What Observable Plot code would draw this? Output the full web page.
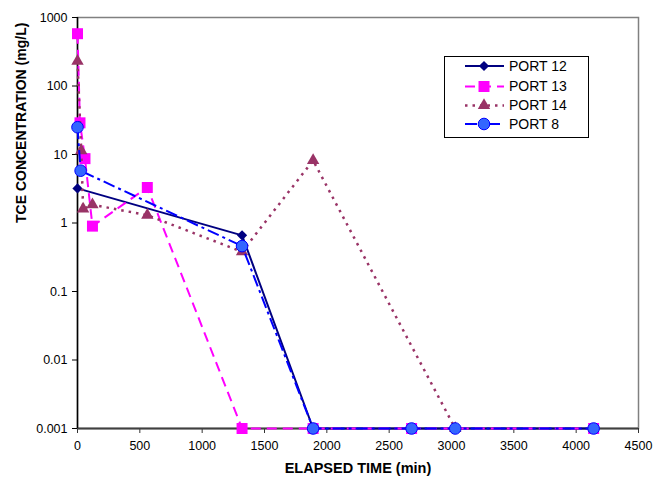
<!DOCTYPE html>
<html>
<head>
<meta charset="utf-8">
<script src="https://cdn.jsdelivr.net/npm/d3@7"></script>
<script src="https://cdn.jsdelivr.net/npm/@observablehq/plot@0.6"></script>
<style>
  html, body { margin: 0; padding: 0; background: #fff; }
  #chart { position: relative; width: 653px; height: 479px; font-family: "Liberation Sans", Arial, sans-serif; }
  #chart svg { font-family: "Liberation Sans", Arial, sans-serif; }
  #legend { position: absolute; left: 444px; top: 56px; }
</style>
</head>
<body>
<div id="chart"></div>
<script>
// ---- data ----
const seriesNames = ["PORT 12", "PORT 13", "PORT 14", "PORT 8"];

const port12Time = [0, 1320, 1890, 2680, 3030, 4140];
const port12Conc = [3.2, 0.66, 0.001, 0.001, 0.001, 0.001];

const port13Time = [0, 20, 60, 120, 560, 1320, 1890, 2680, 4140];
const port13Conc = [580, 29, 8.7, 0.9, 3.3, 0.001, 0.001, 0.001, 0.001];

const port14Time = [0, 30, 45, 120, 560, 1320, 1890, 3030];
const port14Conc = [230, 11.4, 1.6, 1.85, 1.3, 0.38, 8.2, 0.001];

const port8Time = [0, 25, 1320, 1890, 2680, 3030, 4140];
const port8Conc = [25, 5.8, 0.46, 0.001, 0.001, 0.001, 0.001];

const xTicks = [0, 500, 1000, 1500, 2000, 2500, 3000, 3500, 4000, 4500];
const yTicks = [0.001, 0.01, 0.1, 1, 10, 100, 1000];
const yTickLabels = ["0.001", "0.01", "0.1", "1", "10", "100", "1000"];

const xTitle = "ELAPSED TIME (min)";
const yTitle = "TCE CONCENTRATION (mg/L)";

// ---- styles per series ----
const styles = {
  "PORT 12": {stroke: "#000080", dash: null, width: 2, symbol: "diamond2", fill: "#000080", mstroke: "none", r: 4.6},
  "PORT 13": {stroke: "#FF00FF", dash: "10,6", width: 2, symbol: "square", fill: "#FF00FF", mstroke: "none", r: 6.2},
  "PORT 14": {stroke: "#993366", dash: "2.5,5", width: 2.5, symbol: "triangle", fill: "#993366", mstroke: "none", r: 4.6},
  "PORT 8":  {stroke: "#0000FF", dash: "12,4,3,4", width: 2, symbol: "circle", fill: "#3366FF", mstroke: "#0000FF", r: 5.8}
};

const toRows = (name, t, c) => t.map((d, i) => ({series: name, time: d, conc: c[i]}));
const data = {
  "PORT 12": toRows("PORT 12", port12Time, port12Conc),
  "PORT 13": toRows("PORT 13", port13Time, port13Conc),
  "PORT 14": toRows("PORT 14", port14Time, port14Conc),
  "PORT 8": toRows("PORT 8", port8Time, port8Conc)
};

const seriesMarks = seriesNames.flatMap(name => {
  const s = styles[name];
  return [
    Plot.line(data[name], {x: "time", y: "conc", stroke: s.stroke, strokeWidth: s.width,
      strokeDasharray: s.dash || undefined, strokeLinecap: "butt", strokeLinejoin: "round"}),
    Plot.dot(data[name], {x: "time", y: "conc", symbol: () => s.symbol, r: s.r, fill: s.fill,
      stroke: s.mstroke, strokeWidth: 1})
  ];
});

const chart = Plot.plot({
  width: 653,
  height: 479,
  marginLeft: 77,
  marginRight: 15,
  marginTop: 17,
  marginBottom: 51,
  style: {fontFamily: '"Liberation Sans", Arial, sans-serif', background: "#fff", overflow: "visible"},
  symbol: {type: "identity"},
  x: {domain: [0, 4500]},
  y: {type: "log", domain: [0.001, 1000]},
  marks: [
    Plot.frame({stroke: "#808080", strokeWidth: 1.5}),
    Plot.axisX({ticks: xTicks, tickSize: 5, tickPadding: 8, fontSize: 12.5, label: null, stroke: "#333", tickFormat: d => String(d)}),
    Plot.axisY({ticks: yTicks, tickSize: 5, tickPadding: 5, fontSize: 12.5, label: null, stroke: "#000",
      tickFormat: d => yTickLabels[yTicks.indexOf(d)]}),
    Plot.ruleY([0.001], {stroke: "#404040", strokeWidth: 2}),
    Plot.ruleX([0], {stroke: "#000", strokeWidth: 1.5}),
    ...seriesMarks,
    Plot.text([xTitle], {frameAnchor: "bottom", dy: 44, text: d => d, fontSize: 14.5, fontWeight: "bold", fill: "#000"}),
    Plot.text([yTitle], {frameAnchor: "left", dx: -56, rotate: -90, text: d => d, fontSize: 14, fontWeight: "bold", fill: "#000"})
  ]
});

const container = document.getElementById("chart");
container.appendChild(chart);

// ---- legend (inside the plot area) ----
const lw = 145, lh = 82;
const leg = d3.create("svg").attr("id", "legend").attr("width", lw).attr("height", lh)
  .style("font-family", '"Liberation Sans", Arial, sans-serif');
leg.append("rect").attr("x", 0.5).attr("y", 0.5).attr("width", lw - 1).attr("height", lh - 1)
  .attr("fill", "#fff").attr("stroke", "#000").attr("stroke-width", 1);
const rowY = [10, 30.5, 49.5, 68];
seriesNames.forEach((name, i) => {
  const s = styles[name];
  const g = leg.append("g").attr("transform", `translate(0,${rowY[i]})`);
  g.append("line").attr("x1", 21).attr("x2", 60).attr("y1", 0).attr("y2", 0)
    .attr("stroke", s.stroke).attr("stroke-width", s.width)
    .attr("stroke-dasharray", s.dash || null);
  const sym = {diamond2: d3.symbolDiamond2, square: d3.symbolSquare, triangle: d3.symbolTriangle, circle: d3.symbolCircle}[s.symbol];
  g.append("path").attr("transform", "translate(40,0)")
    .attr("d", d3.symbol(sym, Math.PI * s.r * s.r)())
    .attr("fill", s.fill).attr("stroke", s.mstroke === "none" ? null : s.mstroke);
  g.append("text").attr("x", 65).attr("y", 0).attr("dy", "0.35em")
    .attr("font-size", 14).attr("fill", "#000").text(name);
});
container.appendChild(leg.node());
</script>
</body>
</html>
